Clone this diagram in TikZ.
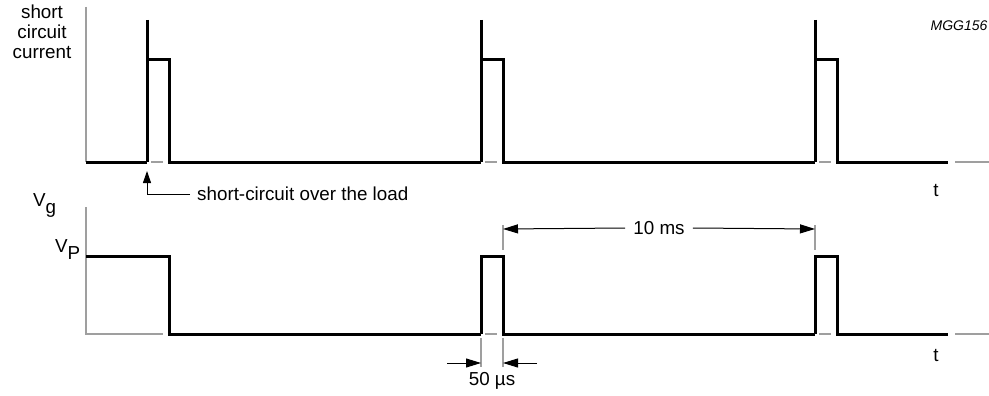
\documentclass[tikz,border=0pt]{standalone}
\usepackage{fontspec}
\setmainfont{Liberation Sans}
\usetikzlibrary{arrows.meta, positioning}

\tikzset{
	wave/.style={line width=3pt, line join=miter, black},
	axis/.style={line width=1.4pt, gray!75},
	dimline/.style={line width=1pt, black},
	extline/.style={line width=1.2pt, gray!75},
	dimarrow/.style={dimline, -{Triangle[length=15pt, width=9pt]}},
	lbl/.style={font=\fontsize{18.8}{20}\selectfont, inner sep=0pt},
}

\begin{document}
\begin{tikzpicture}[x=1pt, y=-1pt]
	\useasboundingbox (0,0) rectangle (989,396);

	% upper trace: short circuit current
	\draw[axis] (86,7) -- (86,162);
	\draw[wave] (86,162) -- (147,162);
	\foreach \x/\n in {147/481, 481/815, 815/948}
	{
		\draw[wave] (\x,20) -- (\x,162);
		\draw[wave] (\x,60) -- (\x+22,60) -- (\x+22,162) -- (\n,162);
		\draw[axis] (\x+4,162) -- (\x+16,162);
	}
	\draw[axis] (955,162) -- (989,162);

	% lower trace: gate voltage
	\draw[axis] (86,207) -- (86,334) -- (163,334);
	\draw[wave] (86,256) -- (169,256) -- (169,334) -- (481,334);
	\foreach \x/\n in {481/815, 815/948}
	{
		\draw[wave] (\x,334) -- (\x,256) -- (\x+22,256) -- (\x+22,334) -- (\n,334);
		\draw[axis] (\x+4,334) -- (\x+16,334);
	}
	\draw[axis] (955,334) -- (989,334);

	% labels
	\node[lbl, align=center] (current) at (42,32) {short\\circuit\\current};
	\node[lbl, font=\fontsize{14}{16}\itshape] (code) at (959,26) {MGG156};
	\node[lbl] (t1) at (936,190) {t};
	\node[lbl] (t2) at (936,355) {t};
	\node[lbl, anchor=south west] (vg) at (33,218) {V\raisebox{-0.4em}{g}};
	\node[lbl, anchor=south west] (vp) at (55,260) {V\raisebox{-0.4em}{P}};

	% short-circuit marker
	\coordinate (scpoint) at (147,171);
	\node[lbl, anchor=west] (sclabel) at (197,194) {short-circuit over the load};
	\draw[dimline, -{Triangle[length=12pt, width=8pt]}] ([xshift=-7pt]sclabel.west) -| (scpoint);

	% 10 ms period
	\coordinate (pa) at (503,229);
	\coordinate (pb) at (815,229);
	\draw[extline] (503,225) -- (503,250);
	\draw[extline] (815,225) -- (815,250);
	\node[lbl] (period) at (659,228) {10 ms};
	\draw[dimarrow] ([xshift=-8pt]period.west) -- (pa);
	\draw[dimarrow] ([xshift=8pt]period.east) -- (pb);

	% 50 us pulse width
	\coordinate (wa) at (481,363);
	\coordinate (wb) at (503,363);
	\coordinate (wl) at (447,363);
	\coordinate (wr) at (537,363);
	\draw[extline] (481,338) -- (481,367);
	\draw[extline] (503,338) -- (503,367);
	\draw[dimarrow] (wl) -- (wa);
	\draw[dimarrow] (wr) -- (wb);
	\node[lbl] (width) at (492,381) {50 µs};
\end{tikzpicture}
\end{document}
